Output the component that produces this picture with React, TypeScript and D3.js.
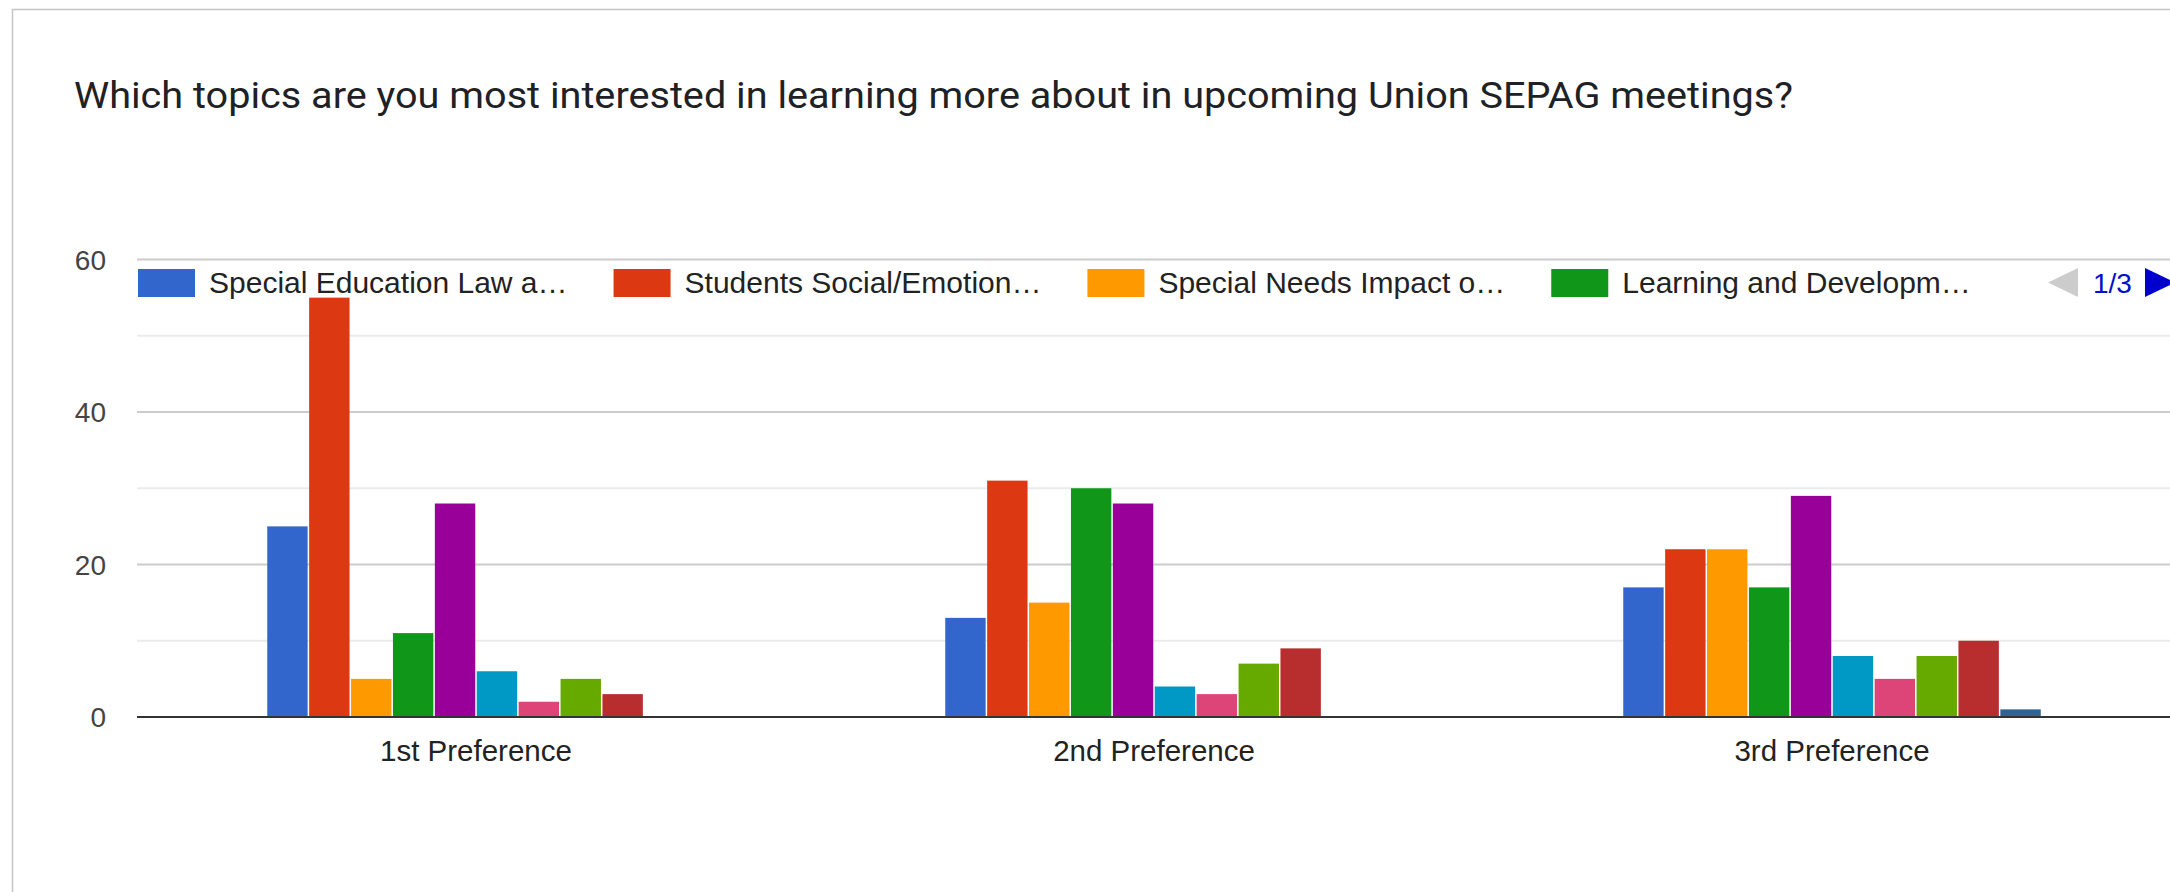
import React, { useEffect, useRef } from "react";
import * as d3 from "d3";

const title =
  "Which topics are you most interested in learning more about in upcoming Union SEPAG meetings?";

const categories = ["1st Preference", "2nd Preference", "3rd Preference"];

// one array per topic, values for 1st / 2nd / 3rd preference
const seriesValues = [
  [25, 13, 17],
  [55, 31, 22],
  [5, 15, 22],
  [11, 30, 17],
  [28, 28, 29],
  [6, 4, 8],
  [2, 3, 5],
  [5, 7, 8],
  [3, 9, 10],
  [0, 0, 1],
];

const colors = [
  "#3366cc",
  "#dc3912",
  "#ff9900",
  "#109618",
  "#990099",
  "#0099c6",
  "#dd4477",
  "#66aa00",
  "#b82e2e",
  "#316395",
];

// only the first legend page is visible
const legendLabels = [
  "Special Education Law a…",
  "Students Social/Emotion…",
  "Special Needs Impact o…",
  "Learning and Developm…",
];

const majorTicks = [0, 20, 40, 60];
const minorTicks = [10, 30, 50];
const pageLabel = "1/3";

const W = 2170;
const H = 892;
const AXIS_FONT = "Arial, 'Liberation Sans', sans-serif";

function Chart() {
  const svgRef = useRef<SVGSVGElement>(null);

  useEffect(() => {
    const svg = d3.select(svgRef.current);
    svg.selectAll("*").remove();

    const left = 137;
    const right = 2171;

    const y = d3.scaleLinear().domain([0, 60]).range([717, 259.5]);
    const x0 = d3.scaleBand().domain(categories).range([left, right]);
    const bw = x0.bandwidth();
    const x1 = d3
      .scaleBand<number>()
      .domain(d3.range(seriesValues.length))
      .range([bw * 0.191, bw * 0.809]);

    // card border
    svg
      .append("path")
      .attr("d", `M12.5,${H + 5} V9.5 H${W + 5}`)
      .attr("fill", "none")
      .attr("stroke", "#c4c4c4")
      .attr("stroke-width", 1.5);

    svg
      .append("text")
      .attr("x", 74)
      .attr("y", 108)
      .attr("font-family", "Roboto, sans-serif")
      .attr("font-size", 37.5)
      .attr("textLength", 1719)
      .attr("lengthAdjust", "spacingAndGlyphs")
      .attr("fill", "#202124")
      .text(title);

    // gridlines
    const grid = svg.append("g");
    grid
      .selectAll(".minor")
      .data(minorTicks)
      .enter()
      .append("line")
      .attr("x1", left)
      .attr("x2", right)
      .attr("y1", (d) => y(d))
      .attr("y2", (d) => y(d))
      .attr("stroke", "#ebebeb")
      .attr("stroke-width", 2);
    grid
      .selectAll(".major")
      .data(majorTicks.filter((d) => d !== 0))
      .enter()
      .append("line")
      .attr("x1", left)
      .attr("x2", right)
      .attr("y1", (d) => y(d))
      .attr("y2", (d) => y(d))
      .attr("stroke", "#cccccc")
      .attr("stroke-width", 2);

    svg
      .append("g")
      .selectAll("text")
      .data(majorTicks)
      .enter()
      .append("text")
      .attr("x", 106)
      .attr("y", (d) => y(d) + 10)
      .attr("text-anchor", "end")
      .attr("font-family", AXIS_FONT)
      .attr("font-size", 28)
      .attr("fill", "#444")
      .text((d) => d);

    // bars
    const groups = svg
      .append("g")
      .selectAll("g")
      .data(categories)
      .enter()
      .append("g")
      .attr("transform", (d) => `translate(${x0(d)},0)`);

    groups
      .selectAll("rect")
      .data((_, ci) =>
        seriesValues.map((vals, si) => ({ si, v: vals[ci] }))
      )
      .enter()
      .append("rect")
      .attr("x", (d) => (x1(d.si) as number) + 0.75)
      .attr("width", x1.bandwidth() - 1.5)
      .attr("y", (d) => y(d.v))
      .attr("height", (d) => y(0) - y(d.v))
      .attr("fill", (d) => colors[d.si]);

    // baseline
    svg
      .append("line")
      .attr("x1", left)
      .attr("x2", right)
      .attr("y1", y(0))
      .attr("y2", y(0))
      .attr("stroke", "#333")
      .attr("stroke-width", 2);

    svg
      .append("g")
      .selectAll("text")
      .data(categories)
      .enter()
      .append("text")
      .attr("x", (d) => (x0(d) as number) + bw / 2)
      .attr("y", 761)
      .attr("text-anchor", "middle")
      .attr("font-family", AXIS_FONT)
      .attr("font-size", 29.5)
      .attr("fill", "#222")
      .text((d) => d);

    // legend, laid out from measured label widths
    const legend = svg.append("g");
    let lx = 138;
    legendLabels.forEach((label, i) => {
      legend
        .append("rect")
        .attr("x", lx)
        .attr("y", 269)
        .attr("width", 57)
        .attr("height", 28)
        .attr("fill", colors[i]);
      const t = legend
        .append("text")
        .attr("x", lx + 71)
        .attr("y", 293)
        .attr("font-family", AXIS_FONT)
        .attr("font-size", 30)
        .attr("fill", "#222")
        .text(label);
      const len = (t.node() as SVGTextElement).getComputedTextLength();
      lx = lx + 71 + len + 46;
    });

    // pager
    legend
      .append("path")
      .attr("d", "M2078,268 L2078,297 L2048,282.5 Z")
      .attr("fill", "#cccccc");
    legend
      .append("text")
      .attr("x", 2093)
      .attr("y", 293)
      .attr("font-family", AXIS_FONT)
      .attr("font-size", 28)
      .attr("fill", "#0011cc")
      .text(pageLabel);
    legend
      .append("path")
      .attr("d", "M2145,268 L2145,297 L2175,282.5 Z")
      .attr("fill", "#0000cc");
  }, []);

  return <svg ref={svgRef} width={W} height={H} style={{ display: "block" }} />;
}

export default function App() {
  return (
    <div
      style={{
        position: "absolute",
        left: 0,
        top: 0,
        width: W,
        height: H,
        overflow: "hidden",
        background: "#fff",
      }}
    >
      <Chart />
    </div>
  );
}
